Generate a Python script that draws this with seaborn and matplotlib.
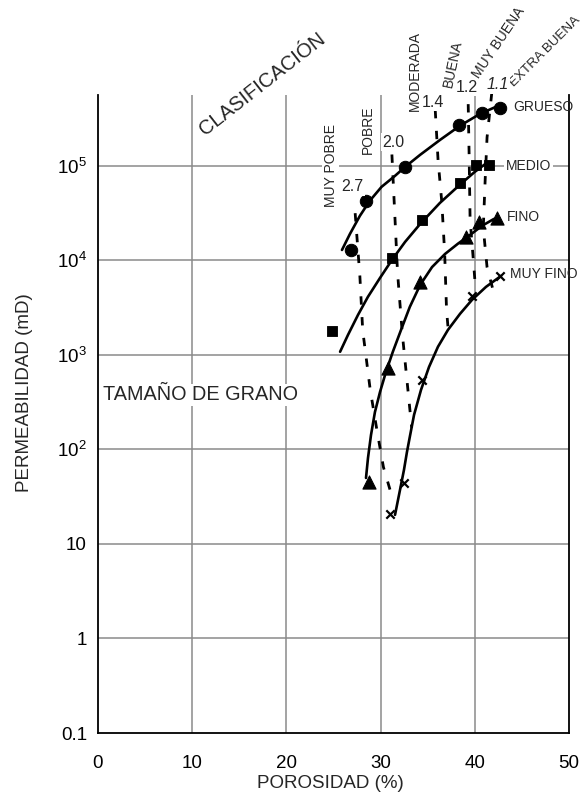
import numpy as np
import pandas as pd
import matplotlib
matplotlib.use("Agg")
import matplotlib.pyplot as plt
from matplotlib.ticker import NullLocator
import seaborn as sns

# ---------------- data ----------------
# measured points (markers)
grueso_x = [26.9, 28.45, 32.6, 38.3, 40.8, 42.7]
grueso_y = [1.3e4, 4.2e4, 9.8e4, 2.7e5, 3.6e5, 4.1e5]
medio_x = [24.8, 31.2, 34.4, 38.4, 40.1, 41.5]
medio_y = [1.8e3, 1.06e4, 2.7e4, 6.6e4, 1.02e5, 1.02e5]
fino_x = [28.8, 30.8, 34.2, 39.1, 40.4, 42.4]
fino_y = [45, 730, 5.9e3, 1.78e4, 2.56e4, 2.8e4]
muyfino_x = [31.0, 32.5, 34.4, 39.7, 42.7]
muyfino_y = [21, 44, 545, 4.2e3, 6.9e3]

# fitted grain-size curves (solid)
c_grueso_x = [25.9, 26.75, 27.8, 28.85, 30.1, 31.5, 32.6, 34.2, 36.3, 38.4, 40.55, 42.46]
c_grueso_y = [1.29e4, 1.91e4, 2.96e4, 4.27e4, 6.0e4, 7.8e4, 9.75e4, 1.31e5,
              1.88e5, 2.65e5, 3.55e5, 4.31e5]
c_medio_x = [25.7, 26.54, 27.6, 28.65, 29.94, 31.2, 32.6, 34.2, 36.3, 38.4, 40.0, 41.4]
c_medio_y = [1.08e3, 1.63e3, 2.65e3, 4.11e3, 6.53e3, 1.01e4, 1.57e4, 2.43e4,
             4.06e4, 6.3e4, 8.65e4, 1.10e5]
c_fino_x = [28.45, 28.66, 28.98, 29.4, 29.94, 30.57, 31.3, 32.17, 33.1, 34.2,
            35.46, 36.84, 38.2, 39.5, 40.76, 42.04]
c_fino_y = [49.9, 81, 142, 249, 406, 661, 1.08e3, 1.84e3, 3.22e3, 5.5e3,
            8.5e3, 1.17e4, 1.50e4, 1.86e4, 2.32e4, 2.75e4]
c_muyfino_x = [31.53, 32.06, 32.48, 32.8, 33.12, 33.55, 34.29, 35.14, 36.09,
               37.15, 38.43, 39.7, 41.19, 42.78]
c_muyfino_y = [20.3, 37.3, 60.7, 94.2, 139, 232, 427, 746, 1.22e3, 1.84e3,
               2.72e3, 3.82e3, 5.25e3, 6.85e3]

# sorting (classification) dashed lines
s27_x = [27.3, 27.8, 28.1, 28.9, 29.6, 30.3, 31.2]
s27_y = [3.16e4, 6.8e3, 1.82e3, 427, 162, 65, 32]
s20_x = [31.2, 31.5, 31.8, 32.3, 32.9, 33.3]
s20_y = [1.32e5, 3.16e4, 7.4e3, 1.7e3, 427, 170]
s14_x = [35.8, 36.1, 36.5, 36.8, 37.0, 37.2]
s14_y = [3.9e5, 1.15e5, 4.1e4, 1.2e4, 3.0e3, 1.74e3]
s12_x = [39.3, 39.4, 39.5, 39.8, 40.1]
s12_y = [4.5e5, 1.26e5, 2.7e4, 1.15e4, 4.7e3]
s11_x = [41.8, 41.3, 41.1, 40.9, 41.3, 42.0]
s11_y = [5.9e5, 2.0e5, 7.1e4, 2.2e4, 8.5e3, 4.6e3]

x_ticks = [0, 10, 20, 30, 40, 50]
y_ticks = [0.1, 1, 10, 100, 1e3, 1e4, 1e5]
y_ticklabels = ["0.1", "1", "10", r"$\mathregular{10^2}$", r"$\mathregular{10^3}$",
                r"$\mathregular{10^4}$", r"$\mathregular{10^5}$"]

# ---------------- style ----------------
sns.set_style("white")
plt.rcParams["font.family"] = ["Liberation Sans", "DejaVu Sans"]
plt.rcParams["mathtext.fontset"] = "custom"
plt.rcParams["mathtext.rm"] = "Liberation Sans"

fig = plt.figure(figsize=(5.85, 7.95), dpi=100)
ax = fig.add_axes([98 / 585, 62 / 795, 471 / 585, 638 / 795])
ax.set_yscale("log")
ax.set_xlim(0, 50)
ax.set_ylim(0.1, 10 ** 5.75)

# grid
for gx in [10, 20, 30, 40]:
    ax.axvline(gx, color="#8a8a8a", lw=1.1, zorder=0)
for gy in [1, 10, 100, 1e3, 1e4, 1e5]:
    ax.axhline(gy, color="#8a8a8a", lw=1.1, zorder=0)

# solid curves
for cx, cy in [(c_grueso_x, c_grueso_y), (c_medio_x, c_medio_y),
               (c_fino_x, c_fino_y), (c_muyfino_x, c_muyfino_y)]:
    n0 = len(ax.lines)
    sns.lineplot(x=cx, y=cy, sort=False, estimator=None, color="black",
                 lw=1.9, ax=ax, zorder=2)
    for ln in ax.lines[n0:]:
        ln.set_solid_joinstyle("round")
        ln.set_solid_capstyle("round")

# dashed sorting lines
for sx, sy in [(s27_x, s27_y), (s20_x, s20_y), (s14_x, s14_y),
               (s12_x, s12_y), (s11_x, s11_y)]:
    n0 = len(ax.lines)
    sns.lineplot(x=sx, y=sy, sort=False, estimator=None, color="black",
                 lw=2.0, ax=ax, zorder=2)
    for ln in ax.lines[n0:]:
        ln.set_linestyle((0, (3, 4.5)))
        ln.set_clip_on(False)

# markers
sns.scatterplot(x=grueso_x, y=grueso_y, marker="o", s=80, color="black",
                edgecolor="black", ax=ax, zorder=3)
sns.scatterplot(x=medio_x, y=medio_y, marker="s", s=60, color="black",
                edgecolor="black", ax=ax, zorder=3)
sns.scatterplot(x=fino_x, y=fino_y, marker="^", s=90, color="black",
                edgecolor="black", ax=ax, zorder=3)
sns.scatterplot(x=muyfino_x, y=muyfino_y, marker="x", s=36, color="black",
                linewidth=1.6, ax=ax, zorder=3)

# axes styling
ax.set_xticks(x_ticks)
ax.set_xticklabels([str(v) for v in x_ticks])
ax.set_yticks(y_ticks)
ax.set_yticklabels(y_ticklabels)
ax.yaxis.set_minor_locator(NullLocator())
ax.tick_params(axis="both", length=0, labelsize=13.5, colors="black")
ax.tick_params(axis="x", pad=16)
ax.tick_params(axis="y", pad=8)
for side in ["left", "bottom", "right"]:
    ax.spines[side].set_color("black")
    ax.spines[side].set_linewidth(1.3)
ax.spines["top"].set_visible(False)

ax.set_xlabel("POROSIDAD (%)", fontsize=13.5)
ax.set_ylabel("PERMEABILIDAD (mD)", fontsize=13.5)
ax.xaxis.set_label_coords(0.493, -0.0665)
ax.yaxis.set_label_coords(-0.138, 0.533)

wb = dict(facecolor="white", edgecolor="none", pad=1.0)

# grain size labels
ax.text(0.5, 10 ** 2.58, "TAMAÑO DE GRANO", fontsize=14.3, ha="left",
        va="center", bbox=wb, zorder=4)
ax.text(44.1, 10 ** 5.62, "GRUESO", fontsize=10, ha="left", va="center", zorder=4)
ax.text(43.3, 1e5, "MEDIO", fontsize=10, ha="left", va="center", bbox=wb, zorder=4)
ax.text(43.4, 10 ** 4.46, "FINO", fontsize=10, ha="left", va="center", zorder=4)
ax.text(43.7, 10 ** 3.86, "MUY FINO", fontsize=10, ha="left", va="center", zorder=4)

# classification labels
ax.text(17.4, 10 ** 5.86, "CLASIFICACIÓN", fontsize=14.5, rotation=38,
        rotation_mode="anchor", ha="center", va="center", clip_on=False)
cls = [("MUY POBRE", 24.7, 5.0, 90, 10), ("POBRE", 28.7, 5.38, 90, 10),
       ("MODERADA", 33.65, 6.0, 90, 10), ("BUENA", 37.7, 6.08, 78, 10),
       ("MUY BUENA", 42.5, 6.30, 56, 10), ("EXTRA BUENA", 47.5, 6.21, 45, 9.6)]
for t, xx, ly, rot, fs in cls:
    ax.text(xx, 10 ** ly, t, fontsize=fs, rotation=rot, rotation_mode="anchor",
            ha="center", va="center", clip_on=False, bbox=wb, zorder=4)

nums = [("2.7", 27.0, 4.78), ("2.0", 31.4, 5.25), ("1.4", 35.6, 5.67),
        ("1.2", 39.2, 5.83), ("1.1", 42.4, 5.86)]
for t, xx, ly in nums:
    ax.text(xx, 10 ** ly, t, fontsize=11.5, ha="center", va="center",
            clip_on=False, style="italic" if t == "1.1" else "normal",
            bbox=wb, zorder=4)

fig.savefig("out.png", dpi=100)
